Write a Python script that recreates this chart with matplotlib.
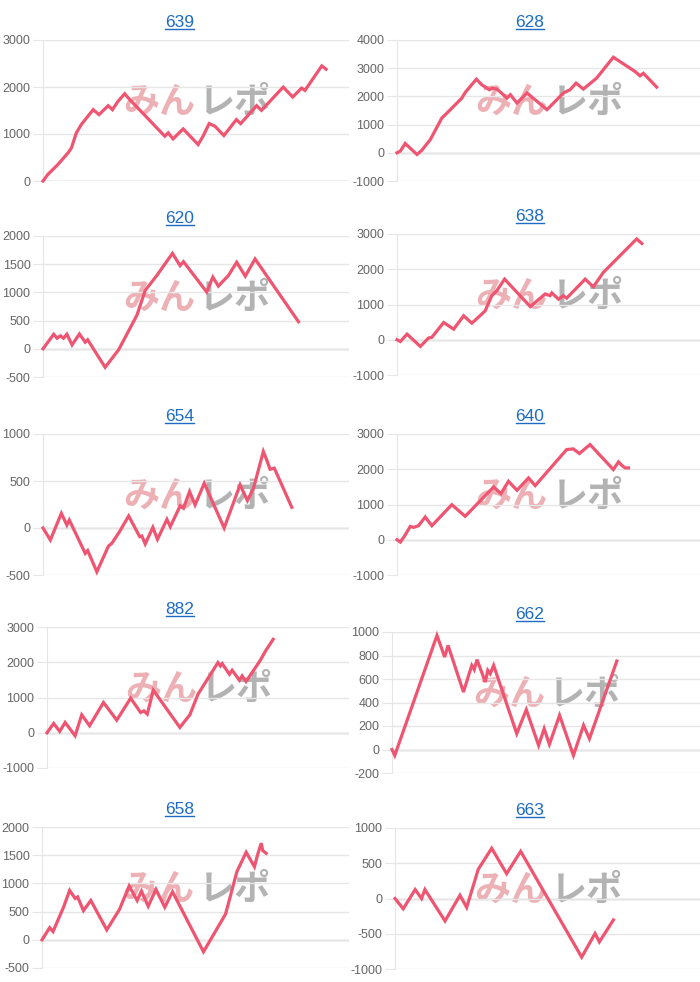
import matplotlib.pyplot as plt
from matplotlib.lines import Line2D

plt.rcParams['axes.unicode_minus'] = False

# 収支グラフ（台番号ごと） - 横軸は全体を100とした位置、縦軸は差枚
titles = ['639', '628', '620', '638', '654', '640', '882', '662', '658', '663']

x_639 = [0, 1.6, 4.9, 8.2, 9.3, 10.9, 12.5, 16.4, 18.3, 21.3, 22.7, 24.5, 26.7, 28.4, 39.8, 40.9, 42.5, 45.8,
         50.7, 52.3, 54.3, 56.2, 59.1, 63.2, 64.6, 69.8, 71.4, 78.5, 81.6, 84.5, 85.6, 91.1, 92.5]
y_639 = [0, 141, 353, 600, 706, 1024, 1200, 1518, 1412, 1602, 1518, 1694, 1856, 1729, 953, 1024, 896, 1108,
         776, 953, 1221, 1165, 967, 1306, 1221, 1602, 1504, 1998, 1786, 1976, 1927, 2449, 2379]

x_628 = [0, 1.1, 2.7, 6.6, 8.2, 11.0, 14.8, 16.5, 21.4, 22.5, 26.2, 28.0, 30.5, 31.3, 33.0, 36.3, 37.4, 39.6,
         42.9, 49.5, 54.9, 57.1, 59.1, 61.5, 65.9, 71.4, 78.6, 80.2, 81.3, 82.4, 85.7]
y_628 = [0, 60, 330, -60, 90, 470, 1235, 1410, 1940, 2140, 2610, 2410, 2235, 2290, 2260, 1940, 2060, 1765,
         2120, 1530, 2120, 2235, 2470, 2260, 2650, 3390, 2880, 2730, 2820, 2700, 2330]

x_620 = [0, 3.5, 4.6, 5.7, 6.7, 7.8, 9.5, 11.9, 13.8, 14.6, 20.3, 24.7, 27.4, 30.7, 33.4, 37.2, 42.3, 44.8,
         45.9, 53.5, 55.5, 57.3, 60.6, 63.3, 66.1, 69.3, 83.5]
y_620 = [0, 258, 187, 230, 187, 258, 70, 263, 117, 160, -328, -18, 258, 597, 1036, 1300, 1692, 1475,
         1546, 1007, 1271, 1112, 1300, 1534, 1288, 1593, 480]

x_638 = [0, 1.1, 3.3, 7.7, 10.4, 11.5, 15.4, 18.7, 22.0, 24.7, 28.0, 29.1, 31.3, 33.0, 35.5, 44.0, 48.9,
         50.5, 51.1, 53.3, 54.9, 56.0, 62.1, 64.8, 68.1, 79.1, 80.8]
y_638 = [0, -50, 160, -190, 50, 70, 490, 300, 680, 470, 730, 820, 1250, 1400, 1720, 940, 1300,
         1250, 1330, 1150, 1250, 1180, 1720, 1500, 1910, 2860, 2730]

x_654 = [0, 2.4, 6.0, 7.8, 8.6, 13.8, 14.6, 17.6, 21.4, 22.5, 25.0, 28.0, 31.6, 32.3, 33.4, 35.9, 37.4, 40.5,
         41.6, 44.8, 45.9, 47.9, 49.7, 52.7, 59.2, 64.4, 66.8, 68.8, 72.0, 73.1, 74.2, 75.6, 81.3]
y_654 = [0, -128, 156, 32, 85, -270, -240, -466, -192, -163, -39, 128, -92, -85, -170, 7, -121, 92,
         14, 235, 210, 388, 245, 476, 0, 459, 292, 423, 814, 725, 625, 636, 220]

x_640 = [0, 1.1, 2.4, 4.4, 5.5, 7.1, 9.3, 11.5, 18.1, 22.5, 31.9, 34.3, 36.8, 39.6, 43.4, 45.6, 56.0, 58.2,
         60.2, 63.7, 71.4, 73.1, 74.2, 75.3, 76.4]
y_640 = [0, -66, 95, 379, 350, 398, 645, 398, 995, 664, 1498, 1308, 1659, 1403, 1754, 1536, 2559, 2578,
         2446, 2701, 1991, 2209, 2110, 2038, 2038]

x_882 = [0, 2.2, 4.2, 6.0, 9.3, 11.5, 14.1, 18.7, 23.1, 27.7, 31.0, 32.1, 33.2, 35.2, 37.4, 44.0, 47.3,
         50.0, 56.6, 57.4, 58.0, 60.4, 61.3, 63.7, 64.6, 65.9, 70.5, 72.5, 74.9]
y_882 = [0, 264, 38, 292, -85, 509, 198, 858, 358, 981, 575, 620, 528, 1207, 943, 151, 509,
         1094, 1990, 1896, 1962, 1660, 1773, 1490, 1613, 1453, 2037, 2339, 2651]

x_662 = [0, 0.9, 14.6, 17.1, 18.2, 23.2, 25.9, 26.7, 27.6, 30.3, 31.1, 31.9, 33.0, 40.5, 43.6, 47.6, 49.4,
         51.1, 54.4, 58.9, 62.2, 64.1, 73.0]
y_662 = [0, -50, 971, 787, 886, 489, 716, 680, 765, 574, 674, 645, 716, 135, 339, 35, 177,
         44, 291, -50, 206, 92, 753]

x_658 = [0, 2.5, 3.6, 7.0, 9.0, 10.8, 11.6, 13.5, 15.9, 21.1, 25.2, 28.4, 31.0, 32.4, 34.6, 37.1, 40.0,
         42.5, 52.6, 59.8, 63.5, 66.5, 69.2, 70.3, 71.4, 71.9, 73.0]
y_658 = [0, 215, 146, 577, 876, 733, 760, 517, 697, 176, 535, 954, 697, 864, 595, 894, 577,
         852, -212, 457, 1211, 1552, 1295, 1522, 1713, 1582, 1534]

x_663 = [0, 2.7, 6.6, 8.7, 9.8, 16.4, 21.3, 23.5, 27.3, 31.7, 36.6, 41.2, 61.2, 65.6, 67.0, 71.6]
y_663 = [0, -146, 127, 0, 127, -319, 46, -127, 415, 712, 352, 669, -832, -496, -616, -304]

xs = [x_639, x_628, x_620, x_638, x_654, x_640, x_882, x_662, x_658, x_663]
ys = [y_639, y_628, y_620, y_638, y_654, y_640, y_882, y_662, y_658, y_663]
y_ticks = [
    [0, 1000, 2000, 3000],
    [-1000, 0, 1000, 2000, 3000, 4000],
    [-500, 0, 500, 1000, 1500, 2000],
    [-1000, 0, 1000, 2000, 3000],
    [-500, 0, 500, 1000],
    [-1000, 0, 1000, 2000, 3000],
    [-1000, 0, 1000, 2000, 3000],
    [-200, 0, 200, 400, 600, 800, 1000],
    [-500, 0, 500, 1000, 1500, 2000],
    [-1000, -500, 0, 500, 1000],
]

W, H = 700, 982
LINE = '#ef5470'
GRID = '#e6e6e6'
TICK_TXT = '#666666'
LINK = '#1c6bc5'

# 各パネルの描画領域（上端, 左端）ピクセル
panel_top = [40, 40, 236, 234, 434, 434, 627, 632, 827, 828]
panel_left = [43, 397, 43, 397, 43, 397, 47, 392, 42, 395]
panel_right = [349, 700]
plot_h = 141
title_cx = [180, 530]

fig = plt.figure(figsize=(W / 100, H / 100), dpi=100)
renderer = fig.canvas.get_renderer()

for i, name in enumerate(titles):
    c = i % 2
    left, top = panel_left[i], panel_top[i]
    ax = fig.add_axes([left / W, 1 - (top + plot_h) / H, (panel_right[c] - left) / W, plot_h / H])

    ticks = y_ticks[i]
    ax.set_ylim(ticks[0], ticks[-1])
    ax.set_xlim(0, 100)
    ax.set_yticks(ticks)
    ax.set_xticks([])
    ax.yaxis.grid(True, color=GRID, lw=1)
    ax.axhline(0, color='#bdbdbd', lw=1, zorder=1)
    ax.tick_params(axis='y', length=7, color=GRID, pad=2, labelsize=9, labelcolor=TICK_TXT)
    for lab in ax.get_yticklabels():
        lab.set_family('Liberation Sans')
    for s in ['top', 'right', 'bottom']:
        ax.spines[s].set_visible(False)
    ax.spines['left'].set_color(GRID)

    # ウォーターマーク
    ax.text(0.497, 0.56, 'みん', transform=ax.transAxes, ha='right', va='center',
            fontsize=26, fontweight='bold', color='#ecb0b5', family=['Noto Sans CJK JP', 'DejaVu Sans'],
            zorder=1)
    ax.text(0.51, 0.56, 'レポ', transform=ax.transAxes, ha='left', va='center',
            fontsize=26, fontweight='bold', color='#b3b3b3', family=['Noto Sans CJK JP', 'DejaVu Sans'],
            zorder=1)

    ax.plot(xs[i], ys[i], color=LINE, lw=2.3, solid_joinstyle='miter', clip_on=False, zorder=3)

    # タイトル（リンク風の下線付き）
    base_y = 1 - (top - 13) / H
    t = fig.text(title_cx[c] / W, base_y, name, ha='center', va='baseline', color=LINK,
                 fontsize=12.5, family='Liberation Sans')
    ext = t.get_window_extent(renderer)
    uy = base_y - 2 / H
    fig.add_artist(Line2D([ext.x0 / W, ext.x1 / W], [uy, uy], color=LINK, lw=1))

fig.savefig('out.png', dpi=100)
